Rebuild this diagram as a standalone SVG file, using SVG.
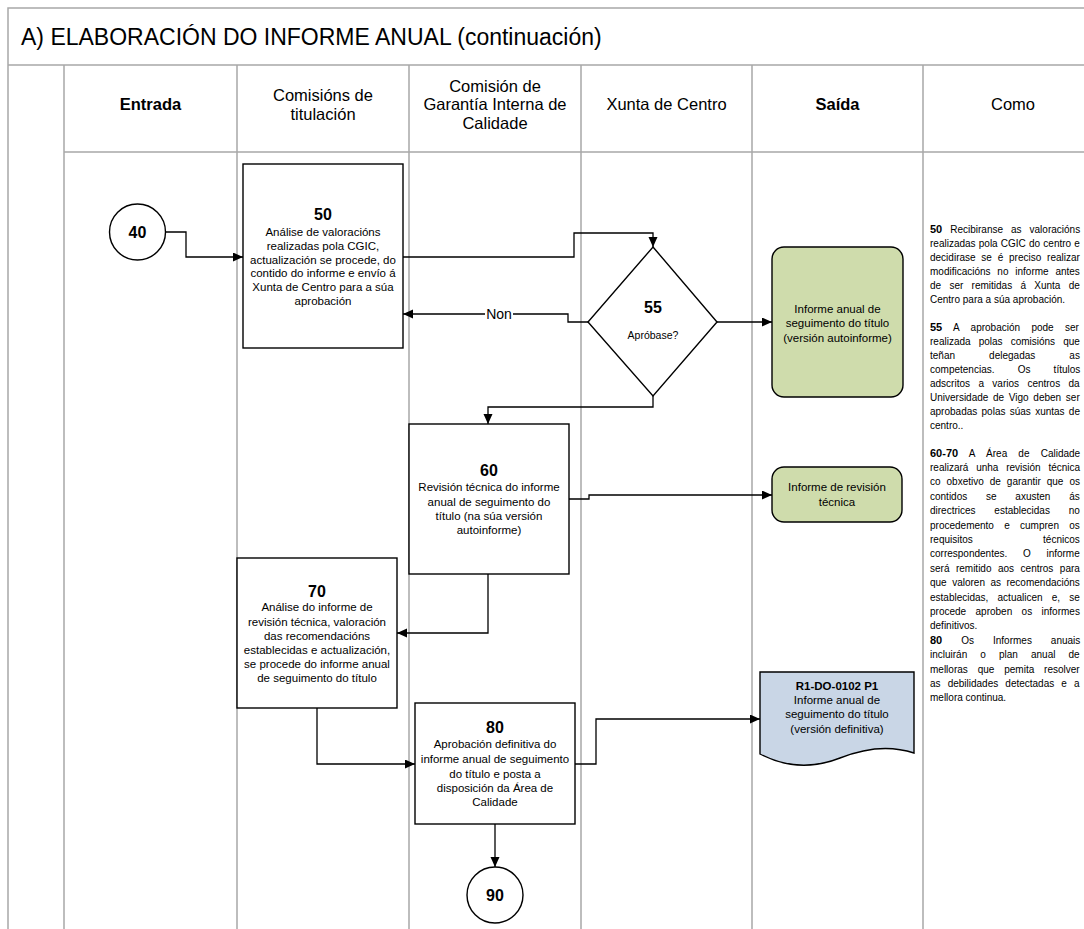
<svg xmlns="http://www.w3.org/2000/svg" width="1084" height="929" viewBox="0 0 1084 929">
<style>
.grid{stroke:#a8a8a8;stroke-width:1.5;fill:none}
.box{fill:#fff;stroke:#000;stroke-width:1.4}
.out1{fill:#cfdcac;stroke:#000;stroke-width:1.4}
.doc{fill:#c9d6e6;stroke:#000;stroke-width:1.4}
.ln{fill:none;stroke:#000;stroke-width:1.3;marker-end:url(#ah)}
text{font-family:"Liberation Sans",Arial,sans-serif;fill:#000}
.t{font-size:11.5px;text-anchor:middle}
.n{font-size:16px;font-weight:bold;text-anchor:middle}
.h{font-size:16.5px;text-anchor:middle}
.c{font-size:10px}
.b{font-weight:bold}
.bn{font-weight:bold;font-size:11px}
</style>
<defs>
<marker id="ah" markerUnits="userSpaceOnUse" markerWidth="11" markerHeight="10" refX="10" refY="4.5" orient="auto">
<path d="M0,0 L10,4.5 L0,9 Z" fill="#000"/>
</marker>
</defs>
<rect x="0" y="0" width="1084" height="929" fill="#fff"/>
<g id="grid">
<path class="grid" d="M8,929 V8 H1084 M8,65 H1084 M64,152 H1084 M64,65 V929 M237,65 V929 M409,65 V929 M581,65 V929 M752,65 V929 M923,65 V929"/>
<text x="21" y="45" style="font-size:23px">A) ELABORACIÓN DO INFORME ANUAL (continuación)</text>
<text class="h b" x="150.5" y="110">Entrada</text>
<text class="h" x="323" y="101">Comisións de</text>
<text class="h" x="323" y="119.5">titulación</text>
<text class="h" x="495" y="92">Comisión de</text>
<text class="h" x="495" y="110">Garantía Interna de</text>
<text class="h" x="495" y="128.5">Calidade</text>
<text class="h" x="666.5" y="110">Xunta de Centro</text>
<text class="h b" x="837.5" y="110">Saída</text>
<text class="h" x="1013" y="110">Como</text>
</g>
<g id="connectors">
<path class="ln" d="M165.5,232 H186 V257 H243"/>
<path class="ln" d="M403,257 H574 V233 H653 V247"/>
<path class="ln" d="M588,322 H568 V314 H403"/>
<rect x="485" y="306" width="28" height="15" fill="#fff"/>
<text x="499" y="319" style="font-size:14px;text-anchor:middle">Non</text>
<path class="ln" d="M717,322 H772"/>
<path class="ln" d="M653,396 V407 H488 V424"/>
<path class="ln" d="M569,499 H589 V495 H772"/>
<path class="ln" d="M488,574 V633 H397"/>
<path class="ln" d="M317,708 V764 H415"/>
<path class="ln" d="M575,764 H596 V719 H760"/>
<path class="ln" d="M495,824 V867"/>
</g>
<g id="n40">
<circle class="box" cx="137.5" cy="232" r="28"/>
<text class="n" x="137.5" y="238">40</text>
</g>
<g id="n50">
<rect class="box" x="243" y="164" width="160" height="184"/>
<text class="n" x="323" y="220">50</text>
<text class="t" x="323" y="236">Análise de valoracións</text>
<text class="t" x="323" y="250">realizadas pola CGIC,</text>
<text class="t" x="323" y="263.5">actualización se procede, do</text>
<text class="t" x="323" y="277">contido do informe e envío á</text>
<text class="t" x="323" y="291">Xunta de Centro para a súa</text>
<text class="t" x="323" y="304.5">aprobación</text>
</g>
<g id="n55">
<path class="box" d="M653,247 L717,322 L653,396 L588,322 Z"/>
<text class="n" x="653" y="313">55</text>
<text x="653" y="339" style="font-size:10.5px;text-anchor:middle">Apróbase?</text>
</g>
<g id="out55">
<rect class="out1" x="772" y="247" width="131" height="150" rx="12" ry="12"/>
<text class="t" x="837.5" y="313">Informe anual de</text>
<text class="t" x="837.5" y="327">seguimento do título</text>
<text class="t" x="837.5" y="342">(versión autoinforme)</text>
</g>
<g id="n60">
<rect class="box" x="409" y="424" width="160" height="150"/>
<text class="n" x="489" y="476">60</text>
<text class="t" x="489" y="491">Revisión técnica do informe</text>
<text class="t" x="489" y="506">anual de  seguimento do</text>
<text class="t" x="489" y="520">título (na súa versión</text>
<text class="t" x="489" y="534">autoinforme)</text>
</g>
<g id="out60">
<rect class="out1" x="772" y="467" width="130" height="55" rx="12" ry="12"/>
<text class="t" x="837" y="491">Informe de revisión</text>
<text class="t" x="837" y="506">técnica</text>
</g>
<g id="n70">
<rect class="box" x="237" y="558" width="160" height="150"/>
<text class="n" x="317" y="596.5">70</text>
<text class="t" x="317" y="611">Análise do informe de</text>
<text class="t" x="317" y="625.5">revisión técnica, valoración</text>
<text class="t" x="317" y="640">das recomendacións</text>
<text class="t" x="317" y="654">establecidas e actualización,</text>
<text class="t" x="317" y="668">se procede do informe anual</text>
<text class="t" x="317" y="682">de seguimento do título</text>
</g>
<g id="n80">
<rect class="box" x="415" y="703" width="160" height="121"/>
<text class="n" x="495" y="733">80</text>
<text class="t" x="495" y="748">Aprobación definitiva do</text>
<text class="t" x="495" y="763">informe anual de seguimento</text>
<text class="t" x="495" y="777.5">do título e posta a</text>
<text class="t" x="495" y="792">disposición da Área de</text>
<text class="t" x="495" y="806">Calidade</text>
</g>
<g id="doc80">
<path class="doc" d="M760,672 H914 V753 C890,745 865,748 840,758 C812,769 785,767 760,754 Z"/>
<text class="t b" x="837" y="689.5">R1-DO-0102 P1</text>
<text class="t" x="837" y="704">Informe anual de</text>
<text class="t" x="837" y="718">seguimento do título</text>
<text class="t" x="837" y="733">(versión definitiva)</text>
</g>
<g id="n90">
<circle class="box" cx="495" cy="895" r="28"/>
<text class="n" x="495" y="901">90</text>
</g>
<g id="como">
<text class="c" x="930" y="232.5" word-spacing="5.2"><tspan class="bn">50</tspan> Recibiranse as valoracións</text>
<text class="c" x="930" y="246.5" word-spacing="0.4">realizadas pola CGIC do centro e</text>
<text class="c" x="930" y="260.5" word-spacing="3">decidirase se é preciso realizar</text>
<text class="c" x="930" y="274.5" word-spacing="4">modificacións no informe antes</text>
<text class="c" x="930" y="288.5" word-spacing="5.5">de ser remitidas á Xunta de</text>
<text class="c" x="930" y="302.5">Centro para a súa aprobación.</text>
<text class="c" x="930" y="330.5" word-spacing="8.6"><tspan class="bn">55</tspan> A aprobación pode ser</text>
<text class="c" x="930" y="344.5" word-spacing="5.3">realizada polas comisións que</text>
<text class="c" x="930" y="358.5" word-spacing="31.3">teñan delegadas as</text>
<text class="c" x="930" y="372.5" word-spacing="20.4">competencias. Os títulos</text>
<text class="c" x="930" y="386.5" word-spacing="5.6">adscritos a varios centros da</text>
<text class="c" x="930" y="400.5" word-spacing="1.9">Universidade de Vigo deben ser</text>
<text class="c" x="930" y="414.5" word-spacing="1.5">aprobadas polas súas xuntas de</text>
<text class="c" x="930" y="428.5">centro..</text>
<text class="c" x="930" y="456.5" word-spacing="8.4"><tspan class="bn">60-70</tspan> A Área de Calidade</text>
<text class="c" x="930" y="470.9" word-spacing="5">realizará unha revisión técnica</text>
<text class="c" x="930" y="485.3" word-spacing="3.2">co obxetivo de garantir que os</text>
<text class="c" x="930" y="499.7" word-spacing="16">contidos se axusten ás</text>
<text class="c" x="930" y="514.1" word-spacing="16">directrices establecidas no</text>
<text class="c" x="930" y="528.5" word-spacing="7.5">procedemento e cumpren os</text>
<text class="c" x="930" y="542.9" word-spacing="67.5">requisitos técnicos</text>
<text class="c" x="930" y="557.3" word-spacing="12.9">correspondentes. O informe</text>
<text class="c" x="930" y="571.7" word-spacing="3.7">será remitido aos centros para</text>
<text class="c" x="930" y="586.1" word-spacing="2.7">que valoren as recomendacións</text>
<text class="c" x="930" y="600.5" word-spacing="6.4">establecidas, actualicen e, se</text>
<text class="c" x="930" y="614.9" word-spacing="6.6">procede aproben os informes</text>
<text class="c" x="930" y="629.3">definitivos.</text>
<text class="c" x="930" y="643.7" word-spacing="16.2"><tspan class="bn">80</tspan> Os Informes anuais</text>
<text class="c" x="930" y="658.1" word-spacing="10.3">incluirán o plan anual de</text>
<text class="c" x="930" y="672.5" word-spacing="7.1">melloras que pemita resolver</text>
<text class="c" x="930" y="686.9" word-spacing="4.3">as debilidades detectadas e a</text>
<text class="c" x="930" y="701.3">mellora continua.</text>
</g>
</svg>
